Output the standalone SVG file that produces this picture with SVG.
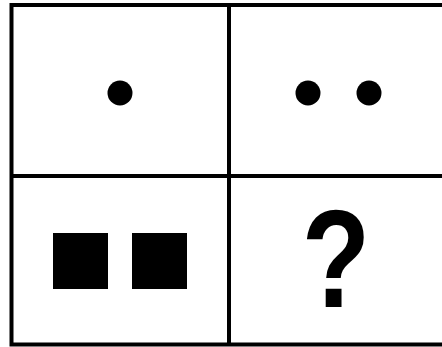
<svg xmlns="http://www.w3.org/2000/svg" width="442" height="347" viewBox="0 0 442 347">
<style>
.grid{stroke:#000;stroke-width:4;fill:none}
.shape{fill:#000}
.q{font-family:"Liberation Sans",Arial,sans-serif;font-weight:bold;font-size:140px;fill:#000}
</style>
<rect width="442" height="347" fill="#fff"/>
<g id="connectors">
<path class="grid" d="M11.5 5 H442 M11.5 176 H442 M11.5 344.5 H442 M11.5 3 V346.5 M229 3 V346.5"/>
</g>
<g id="cell1"><circle class="shape" cx="120" cy="93" r="12.5"/></g>
<g id="cell2"><circle class="shape" cx="308" cy="93" r="12.5"/><circle class="shape" cx="369" cy="93" r="12.5"/></g>
<g id="cell3"><rect class="shape" x="53" y="233" width="55" height="56"/><rect class="shape" x="132" y="233" width="55" height="56"/></g>
<g id="cell4"><text class="q" transform="translate(336 307) scale(0.8 1)" text-anchor="middle">?</text></g>
</svg>
